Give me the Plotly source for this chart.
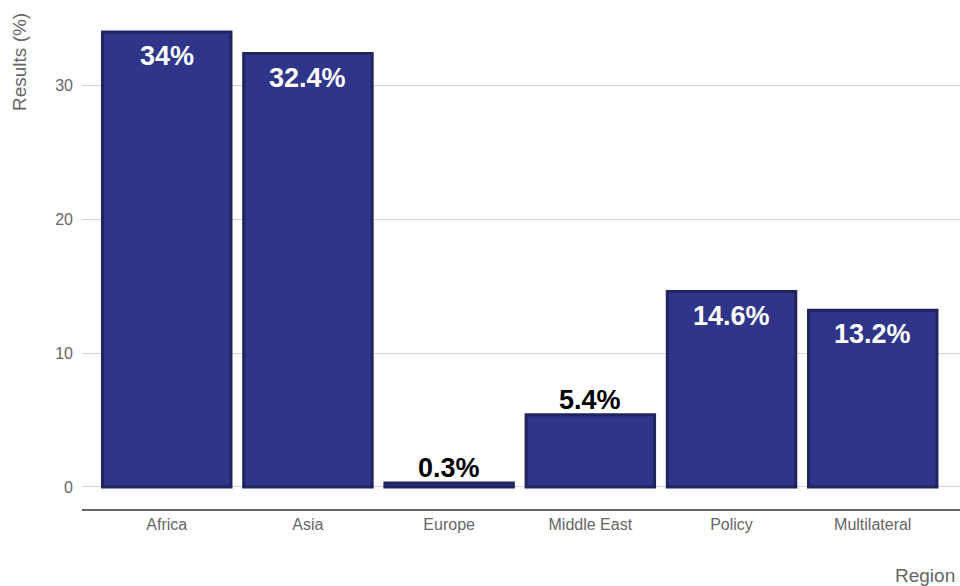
import plotly.graph_objects as go

regions = ["Africa", "Asia", "Europe", "Middle East", "Policy", "Multilateral"]
results = [34.0, 32.4, 0.3, 5.4, 14.6, 13.2]
labels = ["34%", "32.4%", "0.3%", "5.4%", "14.6%", "13.2%"]
inside = [True, True, False, False, True, True]

FONT = "Liberation Sans, Arial, sans-serif"

fig = go.Figure()
fig.add_trace(go.Bar(
    x=regions, y=results,
    marker=dict(color="#2F3588", line=dict(color="#20255F", width=3)),
    hoverinfo="x+y",
))

for r, v, lab, ins in zip(regions, results, labels, inside):
    fig.add_annotation(
        x=r, y=v, text="<b>%s</b>" % lab, showarrow=False,
        xref="x", yref="y",
        yanchor="top" if ins else "bottom",
        yshift=-7 if ins else -2,
        font=dict(family=FONT, size=27, color="white" if ins else "black"),
    )

fig.add_annotation(
    text="Results (%)", xref="paper", yref="paper",
    x=(20 - 82) / 878, y=1 - 62 / 509, xanchor="center", yanchor="middle",
    textangle=-90, showarrow=False,
    font=dict(family=FONT, size=19, color="#666666"),
)
fig.add_annotation(
    text="Region", xref="paper", yref="paper",
    x=(957 - 82) / 878, y=(509 - 575) / 509, xanchor="right", yanchor="middle",
    showarrow=False,
    font=dict(family=FONT, size=19, color="#666666"),
)

fig.update_layout(
    width=960, height=586,
    margin=dict(l=82, r=0, t=0, b=77),
    plot_bgcolor="white", paper_bgcolor="white",
    bargap=0.09, showlegend=False,
    font=dict(family=FONT, size=16, color="#666666"),
    xaxis=dict(
        range=[-0.6, 5.618], showgrid=False, showline=True,
        linecolor="#666666", linewidth=2, ticks="",
        tickfont=dict(size=16, color="#666666"),
    ),
    yaxis=dict(
        range=[-1.65, 36.4], tickvals=[0, 10, 20, 30],
        showgrid=True, gridcolor="#D3D3D3", gridwidth=1,
        zeroline=False, showline=False, ticks="",
        ticklabelstandoff=8,
        tickfont=dict(size=16, color="#666666"),
    ),
)

fig.write_html(
    "out.html",
    config={"displayModeBar": False},
    post_script="document.body.style.margin='0';document.body.style.overflow='hidden';",
)
